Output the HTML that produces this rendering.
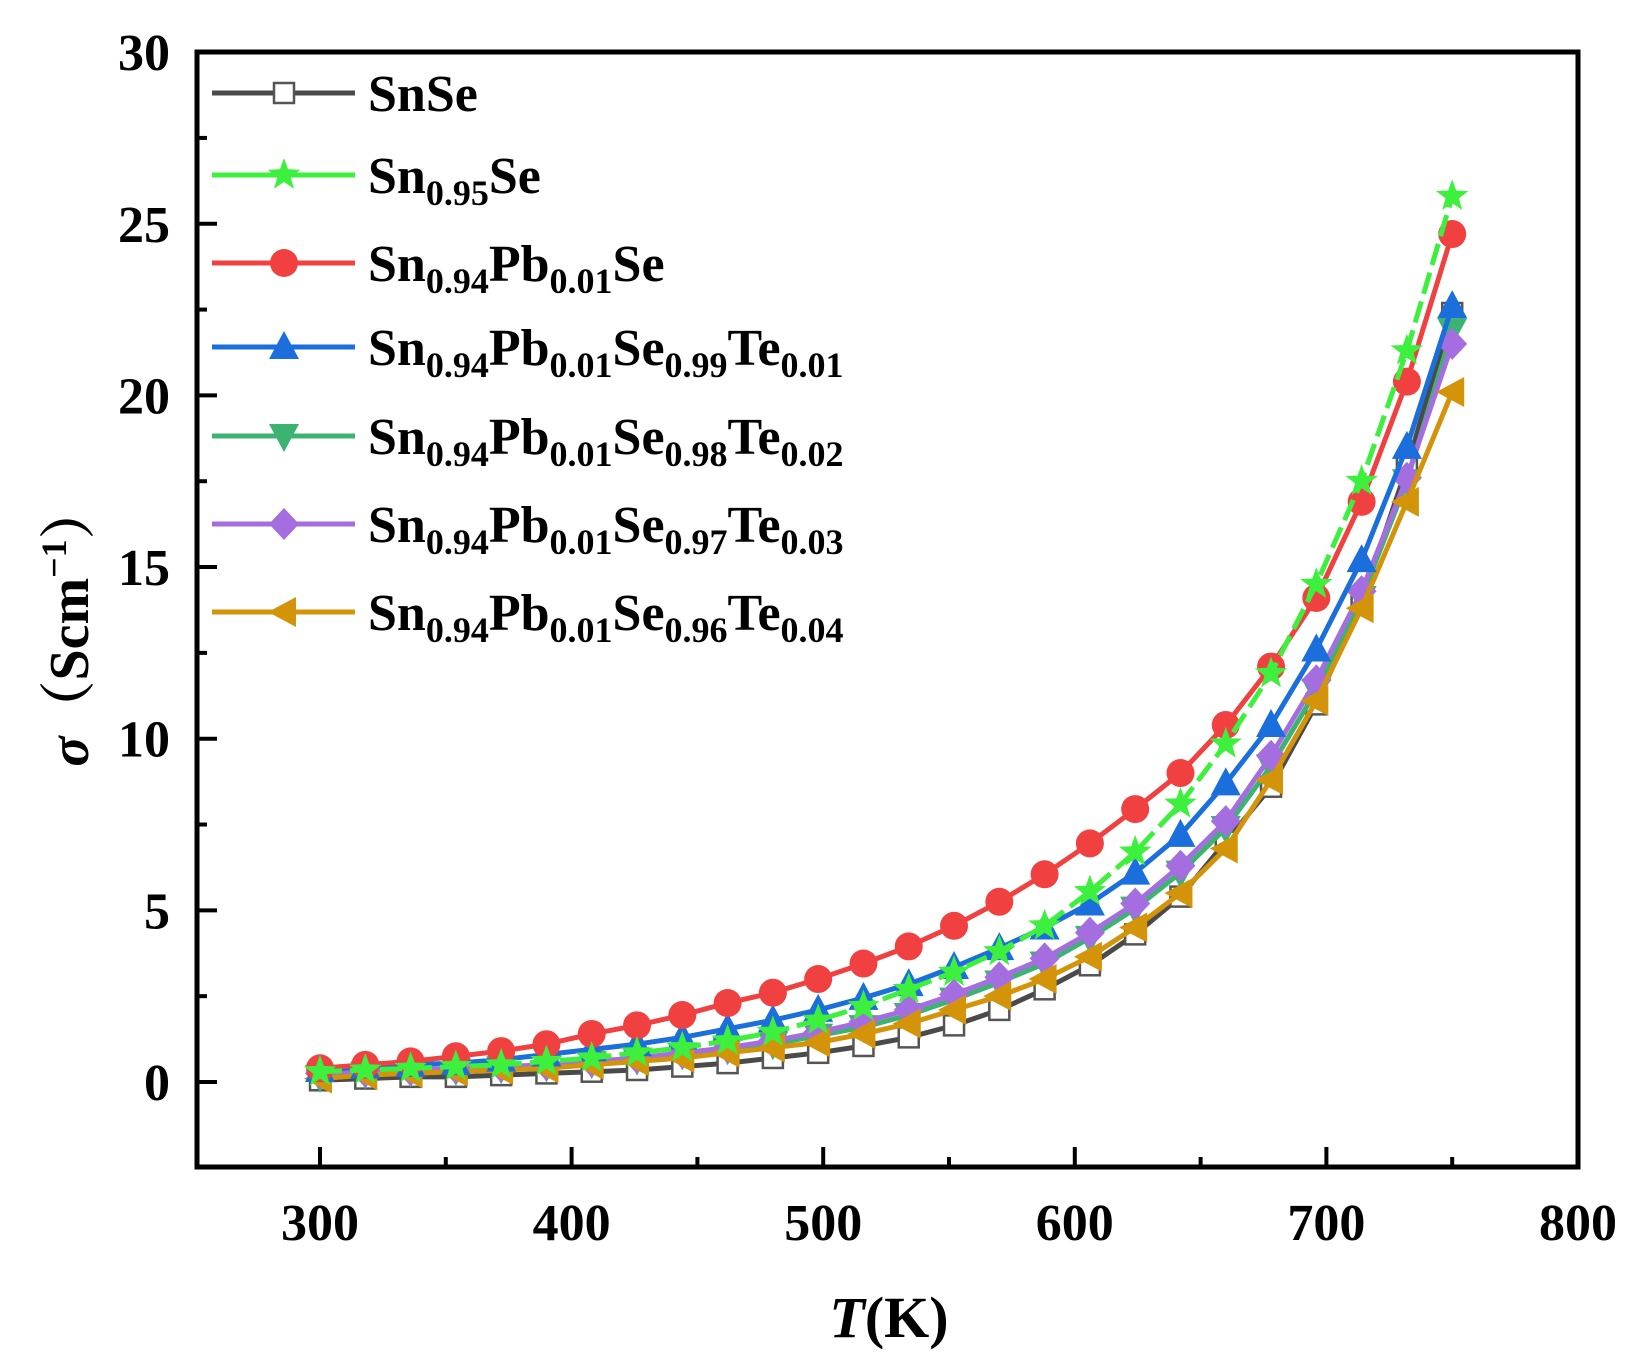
<!DOCTYPE html>
<html><head><meta charset="utf-8"><style>
html,body{margin:0;padding:0;background:#fff;}
svg{display:block;}
</style></head><body>
<svg id="s" width="1643" height="1363" xmlns="http://www.w3.org/2000/svg" font-family="'Liberation Serif', serif"></svg>
<script>
const S=document.getElementById('s');
const X=t=>320+(t-300)*2.516, Y=v=>1082-v*34.33;
let h='';
h+='<rect x="197" y="52" width="1381" height="1115" fill="none" stroke="#000" stroke-width="5"/>';
for(let t=300;t<=750;t+=50){const x=X(t);const L=(t%100==0)?20:10;h+=`<line x1="${x}" y1="1167" x2="${x}" y2="${1167-L}" stroke="#000" stroke-width="4"/>`;}
for(let t=300;t<=800;t+=100){h+=`<text x="${X(t)}" y="1240" font-size="52" font-weight="bold" text-anchor="middle">${t}</text>`;}
for(let v=0;v<=27.5;v+=2.5){const y=Y(v);const L=(v%5==0)?20:10;h+=`<line x1="197" y1="${y}" x2="${197+L}" y2="${y}" stroke="#000" stroke-width="4"/>`;}
for(let v=0;v<=30;v+=5){h+=`<text x="170" y="${Y(v)+18}" font-size="52" font-weight="bold" text-anchor="end">${v}</text>`;}
h+='<text x="889" y="1337" font-size="58" font-weight="bold" text-anchor="middle"><tspan font-style="italic">T</tspan>(K)</text>';
h+='<text transform="translate(88,625) rotate(-90)" font-size="56" font-weight="bold" text-anchor="middle" font-family="\'Liberation Serif\',\'Noto Serif CJK SC\',serif"><tspan font-style="italic">σ</tspan>（Scm<tspan font-size="36" dy="-22">−1</tspan><tspan dy="22">）</tspan></text>';
const T=[];for(let i=0;i<26;i++)T.push(300+18*i);
const D=[
 {c:'#4a4a4a',m:'sq',d:[0.05,0.1,0.15,0.15,0.2,0.25,0.3,0.35,0.45,0.55,0.7,0.85,1.05,1.3,1.65,2.1,2.7,3.4,4.3,5.4,7.0,8.6,11.0,14.0,17.9,22.4]},
 {c:'#3cb371',m:'dn',d:[0.15,0.25,0.3,0.35,0.4,0.45,0.55,0.65,0.8,0.95,1.1,1.35,1.6,1.95,2.4,2.9,3.45,4.2,5.05,6.1,7.4,9.2,11.4,14.1,17.5,21.9]},
 {c:'#a56ee0',m:'di',d:[0.25,0.3,0.35,0.4,0.45,0.5,0.6,0.7,0.85,1.0,1.2,1.45,1.75,2.1,2.55,3.05,3.6,4.35,5.2,6.3,7.6,9.5,11.7,14.3,17.6,21.5]},
 {c:'#d4940a',m:'lt',d:[0.1,0.2,0.25,0.3,0.35,0.4,0.5,0.6,0.7,0.85,1.0,1.15,1.4,1.7,2.1,2.5,3.0,3.65,4.5,5.5,6.8,8.8,11.1,13.8,16.9,20.1]},
 {c:'#1a6fdc',m:'up',d:[0.35,0.45,0.5,0.55,0.65,0.8,0.95,1.1,1.3,1.55,1.8,2.1,2.45,2.85,3.35,3.9,4.5,5.2,6.1,7.2,8.7,10.4,12.6,15.2,18.5,22.6]},
 {c:'#f04040',m:'ci',d:[0.4,0.5,0.6,0.75,0.9,1.1,1.4,1.65,1.95,2.3,2.6,3.0,3.45,3.95,4.55,5.25,6.05,6.95,7.95,9.0,10.4,12.1,14.1,16.9,20.4,24.7]},
 {c:'#3ef03e',m:'st',dash:true,d:[0.3,0.35,0.4,0.45,0.5,0.6,0.7,0.85,1.0,1.2,1.45,1.8,2.2,2.7,3.2,3.8,4.55,5.55,6.7,8.1,9.85,11.9,14.5,17.5,21.3,25.8]}
];
function mk(m,x,y,c){const r=14;
 if(m=='sq')return `<rect x="${x-10}" y="${y-10}" width="20" height="20" fill="#fff" stroke="#555" stroke-width="2.5"/>`;
 if(m=='ci')return `<circle cx="${x}" cy="${y}" r="${r}" fill="${c}"/>`;
 if(m=='up')return `<polygon points="${x},${y-16} ${x+15},${y+12} ${x-15},${y+12}" fill="${c}"/>`;
 if(m=='dn')return `<polygon points="${x},${y+16} ${x+15},${y-12} ${x-15},${y-12}" fill="${c}"/>`;
 if(m=='lt')return `<polygon points="${x-16},${y} ${x+12},${y-15} ${x+12},${y+15}" fill="${c}"/>`;
 if(m=='di')return `<polygon points="${x},${y-16} ${x+15},${y} ${x},${y+16} ${x-15},${y}" fill="${c}"/>`;
 if(m=='st'){let p=[];for(let k=0;k<10;k++){const a=-Math.PI/2+k*Math.PI/5;const rr=k%2?7:17;p.push((x+rr*Math.cos(a)).toFixed(1)+','+(y+rr*Math.sin(a)).toFixed(1));}return `<polygon points="${p.join(' ')}" fill="${c}"/>`;}
}
for(const s of D){
 const pts=s.d.map((v,i)=>X(T[i]).toFixed(1)+','+Y(v).toFixed(1)).join(' ');
 h+=`<polyline points="${pts}" fill="none" stroke="${s.c}" stroke-width="5" ${s.dash?'stroke-dasharray="22,8"':''}/>`;
 s.d.forEach((v,i)=>{h+=mk(s.m,X(T[i]),Y(v),s.c);});
}
const sb=(n)=>`<tspan font-size="36" dy="12">${n}</tspan>`;
const nm=(n)=>`<tspan dy="-12">${n}</tspan>`;
const L=[
 ['#4a4a4a','sq','SnSe'],
 ['#3ef03e','st','Sn'+sb('0.95')+nm('Se')],
 ['#f04040','ci','Sn'+sb('0.94')+nm('Pb')+sb('0.01')+nm('Se')],
 ['#1a6fdc','up','99','01'],
 ['#3cb371','dn','98','02'],
 ['#a56ee0','di','97','03'],
 ['#d4940a','lt','96','04']
];
const LY=[93,175,263,347,436,524,612];
L.forEach((l,i)=>{const y=LY[i];
 h+=`<line x1="212" y1="${y}" x2="355" y2="${y}" stroke="${l[0]}" stroke-width="5"/>`;
 h+=mk(l[1],284,y,l[0]);
 let txt=l[2];
 if(l.length==4) txt='Sn'+sb('0.94')+nm('Pb')+sb('0.01')+nm('Se')+sb('0.'+l[2])+nm('Te')+sb('0.'+l[3]);
 h+=`<text x="368" y="${y+18}" font-size="52" font-weight="bold">${txt}</text>`;
});
S.innerHTML=h;
</script>
</body></html>
